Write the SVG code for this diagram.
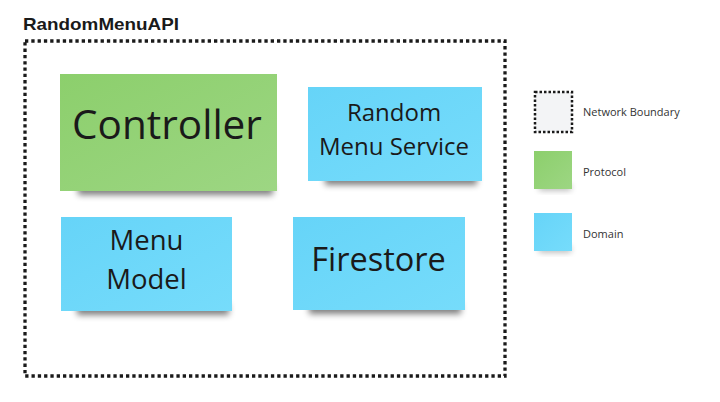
<svg xmlns="http://www.w3.org/2000/svg" width="720" height="402" viewBox="0 0 720 402">
  <style>
    .title { font-family: "Liberation Sans", Arial, sans-serif; font-weight: bold; font-size: 17px; fill: #1a1a1a; }
    .note-text { font-family: "Open Sans", "Noto Sans", sans-serif; fill: #1a1a1a; text-anchor: middle; }
    .legend-text { font-family: "Open Sans", "Noto Sans", sans-serif; font-size: 11px; fill: #333333; }
    .boundary { fill: none; stroke: #1a1a1a; stroke-width: 3.3; stroke-dasharray: 3.3 3; }
    .shadow { fill: #000000; opacity: 0.5; filter: url(#blur); }
    .green { fill: url(#gGreen); }
    .blue { fill: url(#gBlue); }
  </style>
  <defs>
    <linearGradient id="gGreen" x1="0" y1="0" x2="1" y2="1">
      <stop offset="0" stop-color="#8ccf6c"/>
      <stop offset="1" stop-color="#9dd683"/>
    </linearGradient>
    <linearGradient id="gBlue" x1="0" y1="0" x2="1" y2="1">
      <stop offset="0" stop-color="#66d4f8"/>
      <stop offset="1" stop-color="#76dcfb"/>
    </linearGradient>
    <filter id="blur" x="-20%" y="-100%" width="140%" height="300%">
      <feGaussianBlur stdDeviation="3.2"/>
    </filter>
  </defs>

  <text class="title" x="23" y="30" textLength="156" lengthAdjust="spacingAndGlyphs">RandomMenuAPI</text>

  <g id="network-boundary">
    <rect class="boundary" x="25" y="41" width="480" height="335"/>
  </g>

  <g id="controller">
    <rect class="shadow" x="78" y="184" width="195" height="11"/>
    <rect class="green" x="60" y="74" width="217" height="117"/>
    <text class="note-text" x="167" y="139" font-size="40.5">Controller</text>
  </g>

  <g id="random-menu-service">
    <rect class="shadow" x="325" y="174" width="152" height="11"/>
    <rect class="blue" x="308" y="87" width="174" height="94"/>
    <text class="note-text" x="394" y="121" font-size="24">Random</text>
    <text class="note-text" x="394" y="155" font-size="24">Menu Service</text>
  </g>

  <g id="menu-model">
    <rect class="shadow" x="77" y="304" width="152" height="11"/>
    <rect class="blue" x="61" y="217" width="171" height="94"/>
    <text class="note-text" x="146.5" y="250" font-size="27.5">Menu</text>
    <text class="note-text" x="146.5" y="289" font-size="27.5">Model</text>
  </g>

  <g id="firestore">
    <rect class="shadow" x="309" y="303" width="152" height="11"/>
    <rect class="blue" x="293" y="217" width="172" height="93"/>
    <text class="note-text" x="378.5" y="271" font-size="32.5">Firestore</text>
  </g>

  <g id="legend-network-boundary">
    <rect x="535" y="92" width="37" height="40" fill="#f3f4f6" stroke="#1a1a1a" stroke-width="2.5" stroke-dasharray="2.5 2"/>
    <text class="legend-text" x="583" y="116">Network Boundary</text>
  </g>
  <g id="legend-protocol">
    <rect class="shadow" x="539" y="185" width="32" height="5" style="opacity:0.35"/>
    <rect class="green" x="534" y="151" width="38" height="38"/>
    <text class="legend-text" x="583" y="176">Protocol</text>
  </g>
  <g id="legend-domain">
    <rect class="shadow" x="539" y="247" width="32" height="5" style="opacity:0.35"/>
    <rect class="blue" x="534" y="213" width="38" height="38"/>
    <text class="legend-text" x="583" y="238">Domain</text>
  </g>
</svg>
